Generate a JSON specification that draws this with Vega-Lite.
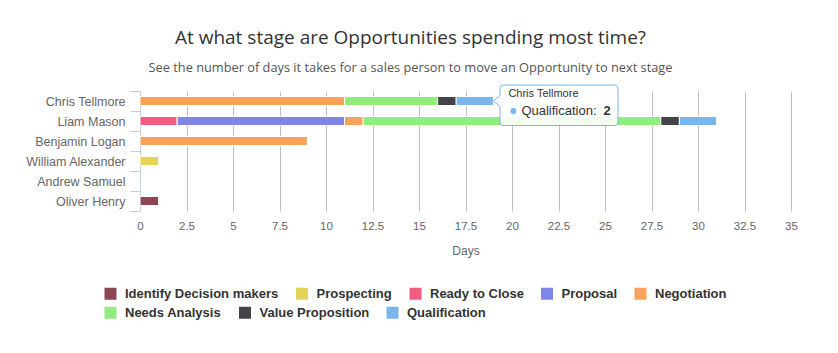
{
  "$schema": "https://vega.github.io/schema/vega-lite/v6.json",
  "width": 651,
  "height": 120,
  "autosize": {"type": "none"},
  "padding": {"left": 140, "top": 91, "right": 47, "bottom": 142},
  "background": "white",
  "title": {
    "text": "At what stage are Opportunities spending most time?",
    "subtitle": "See the number of days it takes for a sales person to move an Opportunity to next stage",
    "font": "Open Sans",
    "fontSize": 19,
    "fontWeight": "normal",
    "color": "#333333",
    "subtitleFont": "Open Sans",
    "subtitleFontSize": 12.8,
    "subtitleColor": "#555555",
    "subtitlePadding": 14,
    "anchor": "middle",
    "dx": -55,
    "offset": 8
  },
  "data": {
    "values": [
      {"person": "Chris Tellmore", "stage": "Negotiation", "days": 11},
      {"person": "Chris Tellmore", "stage": "Needs Analysis", "days": 5},
      {"person": "Chris Tellmore", "stage": "Value Proposition", "days": 1},
      {"person": "Chris Tellmore", "stage": "Qualification", "days": 2},
      {"person": "Liam Mason", "stage": "Ready to Close", "days": 2},
      {"person": "Liam Mason", "stage": "Proposal", "days": 9},
      {"person": "Liam Mason", "stage": "Negotiation", "days": 1},
      {"person": "Liam Mason", "stage": "Needs Analysis", "days": 16},
      {"person": "Liam Mason", "stage": "Value Proposition", "days": 1},
      {"person": "Liam Mason", "stage": "Qualification", "days": 2},
      {"person": "Benjamin Logan", "stage": "Negotiation", "days": 9},
      {"person": "William Alexander", "stage": "Prospecting", "days": 1},
      {"person": "Oliver Henry", "stage": "Identify Decision makers", "days": 1}
    ]
  },
  "transform": [
    {"calculate": "indexof(['Identify Decision makers','Prospecting','Ready to Close','Proposal','Negotiation','Needs Analysis','Value Proposition','Qualification'], datum.stage)", "as": "stageOrder"}
  ],
  "encoding": {
    "y": {
      "field": "person",
      "type": "nominal",
      "title": null,
      "scale": {
        "domain": ["Chris Tellmore", "Liam Mason", "Benjamin Logan", "William Alexander", "Andrew Samuel", "Oliver Henry"],
        "paddingInner": 0,
        "paddingOuter": 0
      },
      "axis": {
        "tickBand": "extent",
        "tickSize": 10,
        "tickColor": "#C0D0E0",
        "domainColor": "#C0D0E0",
        "labelPadding": 5,
        "labelFont": "Liberation Sans",
        "labelFontSize": 12.5,
        "labelColor": "#666666",
        "grid": false
      }
    }
  },
  "layer": [
    {
      "mark": {"type": "bar", "height": 9, "stroke": "white", "strokeWidth": 1},
      "encoding": {
        "x": {
          "field": "days",
          "type": "quantitative",
          "stack": "zero",
          "title": "Days",
          "scale": {"domain": [0, 35], "nice": false},
          "axis": {
            "values": [0, 2.5, 5, 7.5, 10, 12.5, 15, 17.5, 20, 22.5, 25, 27.5, 30, 32.5, 35],
            "format": ".1~f",
            "domain": false,
            "ticks": false,
            "grid": true,
            "gridColor": "#C0C0C0",
            "labelFont": "Liberation Sans",
            "labelFontSize": 11.5,
            "labelColor": "#666666",
            "labelPadding": 9,
            "labelFlush": false,
            "titleFont": "Liberation Sans",
            "titleFontSize": 12,
            "titleFontWeight": "normal",
            "titleColor": "#666666",
            "titlePadding": 14
          }
        },
        "fill": {
          "field": "stage",
          "type": "nominal",
          "scale": {
            "domain": ["Identify Decision makers", "Prospecting", "Ready to Close", "Proposal", "Negotiation", "Needs Analysis", "Value Proposition", "Qualification"],
            "range": ["#8d4654", "#e4d354", "#f15c80", "#8085e9", "#f7a35c", "#90ed7d", "#434348", "#7cb5ec"]
          },
          "legend": {
            "title": null,
            "orient": "none",
            "legendX": -36,
            "legendY": 196,
            "direction": "horizontal",
            "values": ["Identify Decision makers", "Prospecting", "Ready to Close", "Proposal", "Negotiation"],
            "symbolType": "square",
            "symbolSize": 144,
            "symbolStrokeWidth": 0,
            "labelFont": "Liberation Sans",
            "labelFontSize": 13,
            "labelFontWeight": "bold",
            "labelColor": "#333333",
            "labelOffset": 8,
            "columnPadding": 16.5
          }
        },
        "order": {"field": "stageOrder", "type": "quantitative"},
        "tooltip": [
          {"field": "person"},
          {"field": "stage"},
          {"field": "days"}
        ]
      }
    },
    {
      "mark": {"type": "bar", "height": 9, "stroke": "white", "strokeWidth": 1},
      "encoding": {
        "x": {"field": "days", "type": "quantitative", "stack": "zero", "title": "Days"},
        "color": {
          "field": "stage",
          "type": "nominal",
          "scale": {
            "domain": ["Needs Analysis", "Value Proposition", "Qualification", "Identify Decision makers", "Prospecting", "Ready to Close", "Proposal", "Negotiation"],
            "range": ["#90ed7d", "#434348", "#7cb5ec", "#8d4654", "#e4d354", "#f15c80", "#8085e9", "#f7a35c"]
          },
          "legend": {
            "title": null,
            "orient": "none",
            "legendX": -36,
            "legendY": 215,
            "direction": "horizontal",
            "values": ["Needs Analysis", "Value Proposition", "Qualification"],
            "symbolType": "square",
            "symbolSize": 144,
            "symbolStrokeWidth": 0,
            "labelFont": "Liberation Sans",
            "labelFontSize": 13,
            "labelFontWeight": "bold",
            "labelColor": "#333333",
            "labelOffset": 8,
            "columnPadding": 16.5
          }
        },
        "order": {"field": "stageOrder", "type": "quantitative"},
        "tooltip": [
          {"field": "person"},
          {"field": "stage"},
          {"field": "days"}
        ]
      }
    },
    {
      "transform": [
        {"window": [{"op": "sum", "field": "days", "as": "stackEnd"}], "groupby": ["person"], "sort": [{"field": "stageOrder"}], "frame": [null, 0]},
        {"filter": "datum.person === 'Chris Tellmore' && datum.stage === 'Qualification'"},
        {"calculate": "datum.stage + ':'", "as": "tipLabel"}
      ],
      "encoding": {
        "x": {"field": "stackEnd", "type": "quantitative", "title": "Days"}
      },
      "layer": [
        {
          "mark": {
            "type": "point",
            "shape": "M0.66,-1.3 Q0.66,-1.6 0.96,-1.6 L12.16,-1.6 Q12.46,-1.6 12.46,-1.3 L12.46,2.15 Q12.46,2.45 12.16,2.45 L0.96,2.45 Q0.66,2.45 0.66,2.15 L0.66,0.55 L0,0 L0.66,-0.55 Z",
            "size": 400,
            "filled": true,
            "fill": "white",
            "fillOpacity": 0.88,
            "stroke": "#7cb5ec",
            "strokeWidth": 1,
            "opacity": 1
          }
        },
        {
          "mark": {"type": "text", "align": "left", "baseline": "alphabetic", "dx": 15, "dy": -4, "font": "Liberation Sans", "fontSize": 11, "color": "#333333"},
          "encoding": {"text": {"field": "person"}}
        },
        {
          "mark": {"type": "point", "shape": "circle", "filled": true, "size": 36, "xOffset": 20, "yOffset": 10, "color": "#7cb5ec", "opacity": 1}
        },
        {
          "mark": {"type": "text", "align": "left", "baseline": "alphabetic", "dx": 28, "dy": 14, "font": "Liberation Sans", "fontSize": 13, "color": "#333333"},
          "encoding": {"text": {"field": "tipLabel"}}
        },
        {
          "mark": {"type": "text", "align": "left", "baseline": "alphabetic", "dx": 110, "dy": 14, "font": "Liberation Sans", "fontSize": 13, "fontWeight": "bold", "color": "#333333"},
          "encoding": {"text": {"field": "days", "type": "quantitative"}}
        }
      ]
    }
  ],
  "config": {
    "view": {"stroke": null}
  }
}
